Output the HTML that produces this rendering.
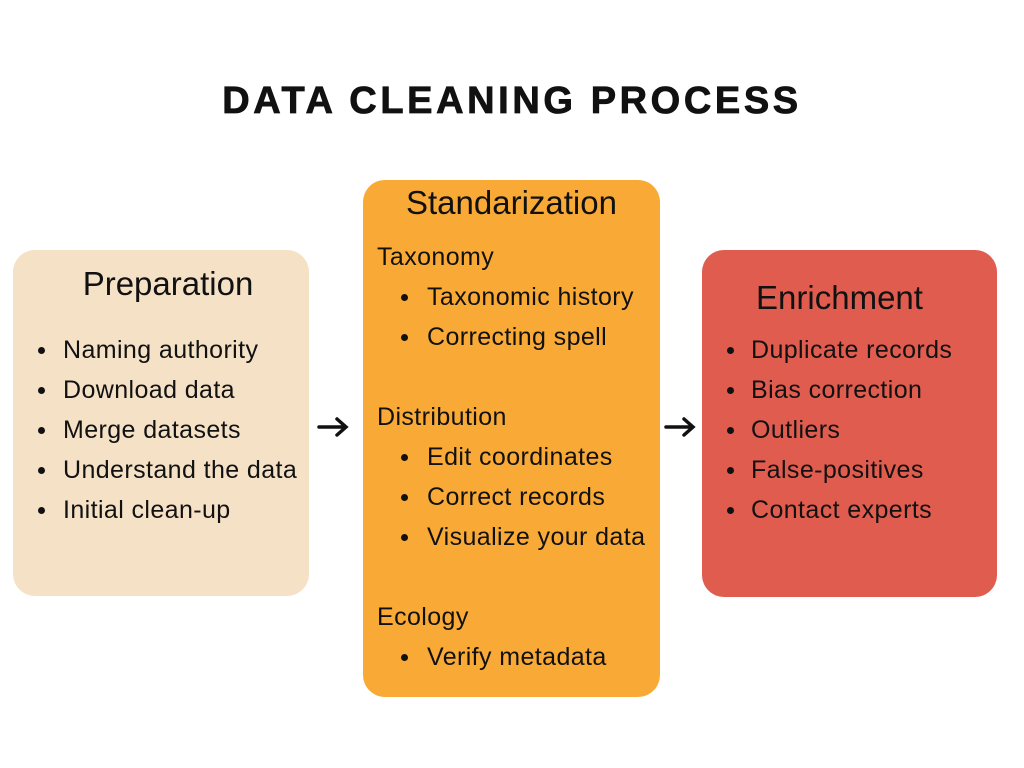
<!DOCTYPE html>
<html><head><meta charset="utf-8"><style>
body{margin:0;width:1024px;height:768px;background:#fff;position:relative;overflow:hidden;font-family:"Liberation Sans",sans-serif;color:#111}
.t{position:absolute;white-space:nowrap;line-height:30px;height:30px;font-size:25px;letter-spacing:0.4px}
.box{position:absolute;border-radius:22px}
.dot{position:absolute;width:7px;height:7px;border-radius:50%;background:#111}
.h{position:absolute;text-align:center;line-height:40px;height:40px;font-size:33px}
</style></head><body>
<div style="position:absolute;left:0;width:1024px;top:78px;text-align:center;font-size:38px;font-weight:bold;letter-spacing:3.6px;line-height:46px;-webkit-text-stroke:0.8px #111">DATA CLEANING PROCESS</div>

<div class="box" style="left:13px;top:250px;width:296px;height:346px;background:#F5E1C6"></div>
<div class="box" style="left:363px;top:180px;width:297px;height:517px;background:#F9A935"></div>
<div class="box" style="left:702px;top:250px;width:295px;height:347px;background:#E05C4F"></div>

<div class="h" style="left:13px;width:310px;top:264px">Preparation</div>
<div class="h" style="left:363px;width:297px;top:183px">Standarization</div>
<div class="h" style="left:702px;width:275px;top:278px">Enrichment</div>

<div class="dot" style="left:38px;top:347px"></div><div class="t" style="left:63px;top:335px">Naming authority</div>
<div class="dot" style="left:38px;top:387px"></div><div class="t" style="left:63px;top:375px">Download data</div>
<div class="dot" style="left:38px;top:427px"></div><div class="t" style="left:63px;top:415px">Merge datasets</div>
<div class="dot" style="left:38px;top:467px"></div><div class="t" style="left:63px;top:455px">Understand the data</div>
<div class="dot" style="left:38px;top:507px"></div><div class="t" style="left:63px;top:495px">Initial clean-up</div>

<div class="t" style="left:377px;top:242px">Taxonomy</div>
<div class="dot" style="left:401px;top:294px"></div><div class="t" style="left:427px;top:282px">Taxonomic history</div>
<div class="dot" style="left:401px;top:334px"></div><div class="t" style="left:427px;top:322px">Correcting spell</div>
<div class="t" style="left:377px;top:402px">Distribution</div>
<div class="dot" style="left:401px;top:454px"></div><div class="t" style="left:427px;top:442px">Edit coordinates</div>
<div class="dot" style="left:401px;top:494px"></div><div class="t" style="left:427px;top:482px">Correct records</div>
<div class="dot" style="left:401px;top:534px"></div><div class="t" style="left:427px;top:522px">Visualize your data</div>
<div class="t" style="left:377px;top:602px">Ecology</div>
<div class="dot" style="left:401px;top:654px"></div><div class="t" style="left:427px;top:642px">Verify metadata</div>

<div class="dot" style="left:727px;top:347px"></div><div class="t" style="left:751px;top:335px">Duplicate records</div>
<div class="dot" style="left:727px;top:387px"></div><div class="t" style="left:751px;top:375px">Bias correction</div>
<div class="dot" style="left:727px;top:427px"></div><div class="t" style="left:751px;top:415px">Outliers</div>
<div class="dot" style="left:727px;top:467px"></div><div class="t" style="left:751px;top:455px">False-positives</div>
<div class="dot" style="left:727px;top:507px"></div><div class="t" style="left:751px;top:495px">Contact experts</div>

<svg style="position:absolute;left:0;top:0" width="1024" height="768">
<g stroke="#111" stroke-width="3.5" fill="none" stroke-linecap="round">
<path d="M319 427H345M337 419L346 427L337 435"/>
<path d="M666 427H692M684 419L693 427L684 435"/>
</g></svg>
</body></html>
